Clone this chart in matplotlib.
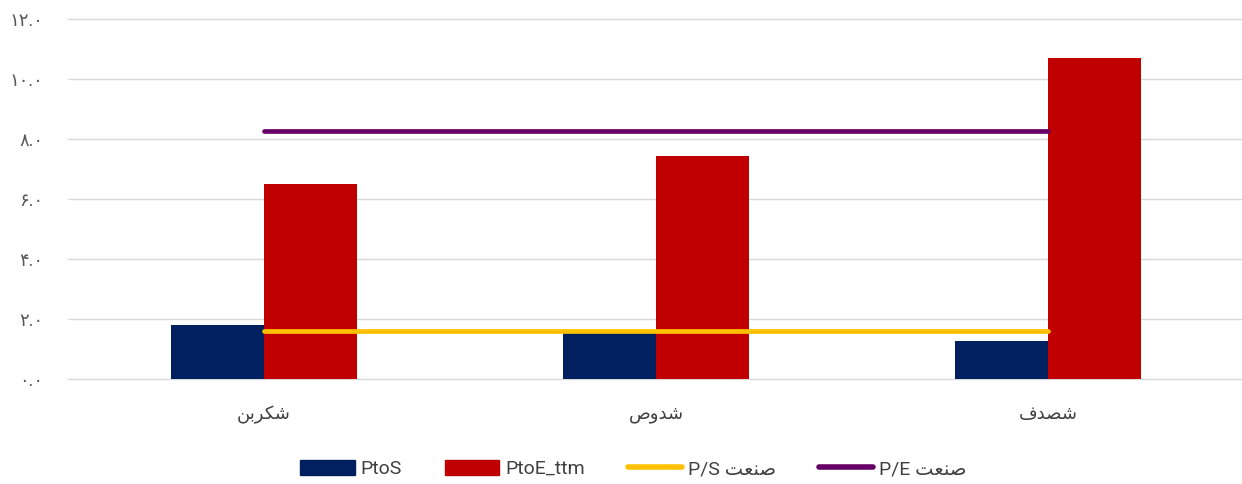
import matplotlib
matplotlib.use("Agg")
import matplotlib.pyplot as plt
from matplotlib.ticker import FuncFormatter, MultipleLocator
from matplotlib.lines import Line2D
from matplotlib.patches import Patch

plt.rcParams['font.family'] = ['Roboto', 'DejaVu Sans']

# نمادها (presentation forms, visual order)
symbols = ["\uFEE6\uFE91\uFEAE\uFEDC\uFEB7",   # شکربن
           "\uFEB9\uFEED\uFEAA\uFEB7",         # شدوص
           "\uFED1\uFEAA\uFEBC\uFEB7"]         # شصدف
sanat = "\uFE96\uFECC\uFEE8\uFEBB"              # صنعت

ptos = [1.8, 1.55, 1.27]
ptoe_ttm = [6.5, 7.45, 10.7]
ind_ps = [1.6, 1.6, 1.6]
ind_pe = [8.27, 8.27, 8.27]

navy = "#002060"
red = "#C00000"
gold = "#FFC000"
purple = "#660066"

fa_digits = str.maketrans("0123456789", "۰۱۲۳۴۵۶۷۸۹")


def fa_fmt(v, pos):
    return ("%.1f" % v).translate(fa_digits)


fig = plt.figure(figsize=(12.42, 4.84), dpi=100)
ax = fig.add_axes([68 / 1242, 105 / 484, 1176 / 1242, 360 / 484])

x = list(range(len(symbols)))
w = 0.237
ax.bar([i - w / 2 for i in x], ptos, w, color=navy, zorder=2)
ax.bar([i + w / 2 for i in x], ptoe_ttm, w, color=red, zorder=2)
ax.plot(x, ind_ps, color=gold, lw=3.4, solid_capstyle='round', zorder=3)
ax.plot(x, ind_pe, color=purple, lw=3.4, solid_capstyle='round', zorder=3)

ax.set_xlim(-0.5, 2.5)
ax.set_ylim(0, 12)
ax.yaxis.set_major_locator(MultipleLocator(2))
ax.yaxis.set_major_formatter(FuncFormatter(fa_fmt))
ax.set_axisbelow(True)
ax.grid(axis='y', color='#d9d9d9', lw=1)
for gl in ax.get_ygridlines():
    gl.set_clip_on(False)
ax.set_xticks(x)
ax.set_xticklabels(symbols, fontsize=13, color='#404040')
ax.tick_params(axis='y', labelsize=13, colors='#595959', length=0, pad=18)
ax.tick_params(axis='x', length=0, pad=19)
for s in ax.spines.values():
    s.set_visible(False)

handles = [Patch(color=navy), Patch(color=red),
           Line2D([], [], color=gold, lw=4, solid_capstyle='round'),
           Line2D([], [], color=purple, lw=4, solid_capstyle='round')]
labels = ["PtoS", "PtoE_ttm", "P/S " + sanat, "P/E " + sanat]
fig.legend(handles, labels, loc='center', bbox_to_anchor=(0.51, 0.031),
           ncol=4, frameon=False, fontsize=14, labelcolor='#404040',
           handlelength=2.8, handleheight=0.8, handletextpad=0.3,
           columnspacing=2.2)

fig.savefig("out.png", dpi=100)
